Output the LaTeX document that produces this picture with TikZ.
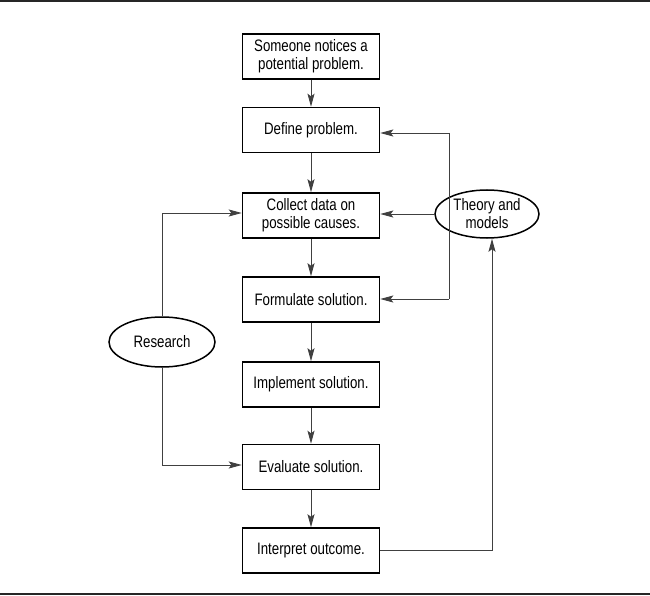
\documentclass[tikz,border=0pt]{standalone}
\usepackage{fontspec}
\setmainfont{Liberation Sans}[FakeStretch=0.8]
\usetikzlibrary{shapes.geometric,arrows.meta}
\begin{document}
\begin{tikzpicture}[x=1pt,y=-1pt,
  stepbox/.style={draw=black,line width=1.5pt,minimum width=137pt,minimum height=45pt,inner sep=0pt,align=center,font=\fontsize{16.6}{18}\selectfont},
  oval/.style={draw=black,ellipse,line width=1.5pt,inner sep=0pt,align=center,font=\fontsize{16.6}{18}\selectfont},
  conn/.style={draw=black!75,line width=0.9pt,-{Stealth[length=13pt,width=7pt,inset=2.5pt]}},
  line/.style={draw=black!75,line width=0.9pt}]
\useasboundingbox (0,0) rectangle (650,596);
\draw[line width=2.5pt,black!85] (0,1.25) -- (650,1.25);
\draw[line width=1.8pt,black!85] (0,594) -- (650,594);
\node[stepbox] (s1) at (311,56.5) {Someone notices a\\potential problem.};
\node[stepbox] (s2) at (311,130) {Define problem.};
\node[stepbox] (s3) at (311,215.5) {Collect data on\\possible causes.};
\node[stepbox] (s4) at (311,299.5) {Formulate solution.};
\node[stepbox] (s5) at (311,384.5) {Implement solution.};
\node[stepbox] (s6) at (311,467) {Evaluate solution.};
\node[stepbox] (s7) at (311,550.5) {Interpret outcome.};
\node[oval,minimum width=104pt,minimum height=48pt] (th) at (487,214) {Theory and\\models};
\node[oval,minimum width=106pt,minimum height=50pt] (rs) at (162,342) {Research};
\draw[conn] (s1) -- (s2);
\draw[conn] (s2) -- (s3);
\draw[conn] (s3) -- (s4);
\draw[conn] (s4) -- (s5);
\draw[conn] (s5) -- (s6);
\draw[conn] (s6) -- (s7);
\coordinate (tt) at (449,133);
\coordinate (tb) at (449,299);
\draw[line] (tt) -- (tb);
\draw[conn] (tt) -- (tt -| s2.east);
\draw[conn] (th.west) -- (th.west -| s3.east);
\draw[conn] (tb) -- (tb -| s4.east);
\coordinate (ic) at (492,550.5);
\draw[conn] (s7.east) -- (ic) -- (th.south -| ic);
\coordinate (rt) at (162,213);
\coordinate (rb) at (162,465);
\draw[conn] (rs.north) -- (rt) -- (rt -| s3.west);
\draw[conn] (rs.south) -- (rb) -- (rb -| s6.west);
\end{tikzpicture}
\end{document}
